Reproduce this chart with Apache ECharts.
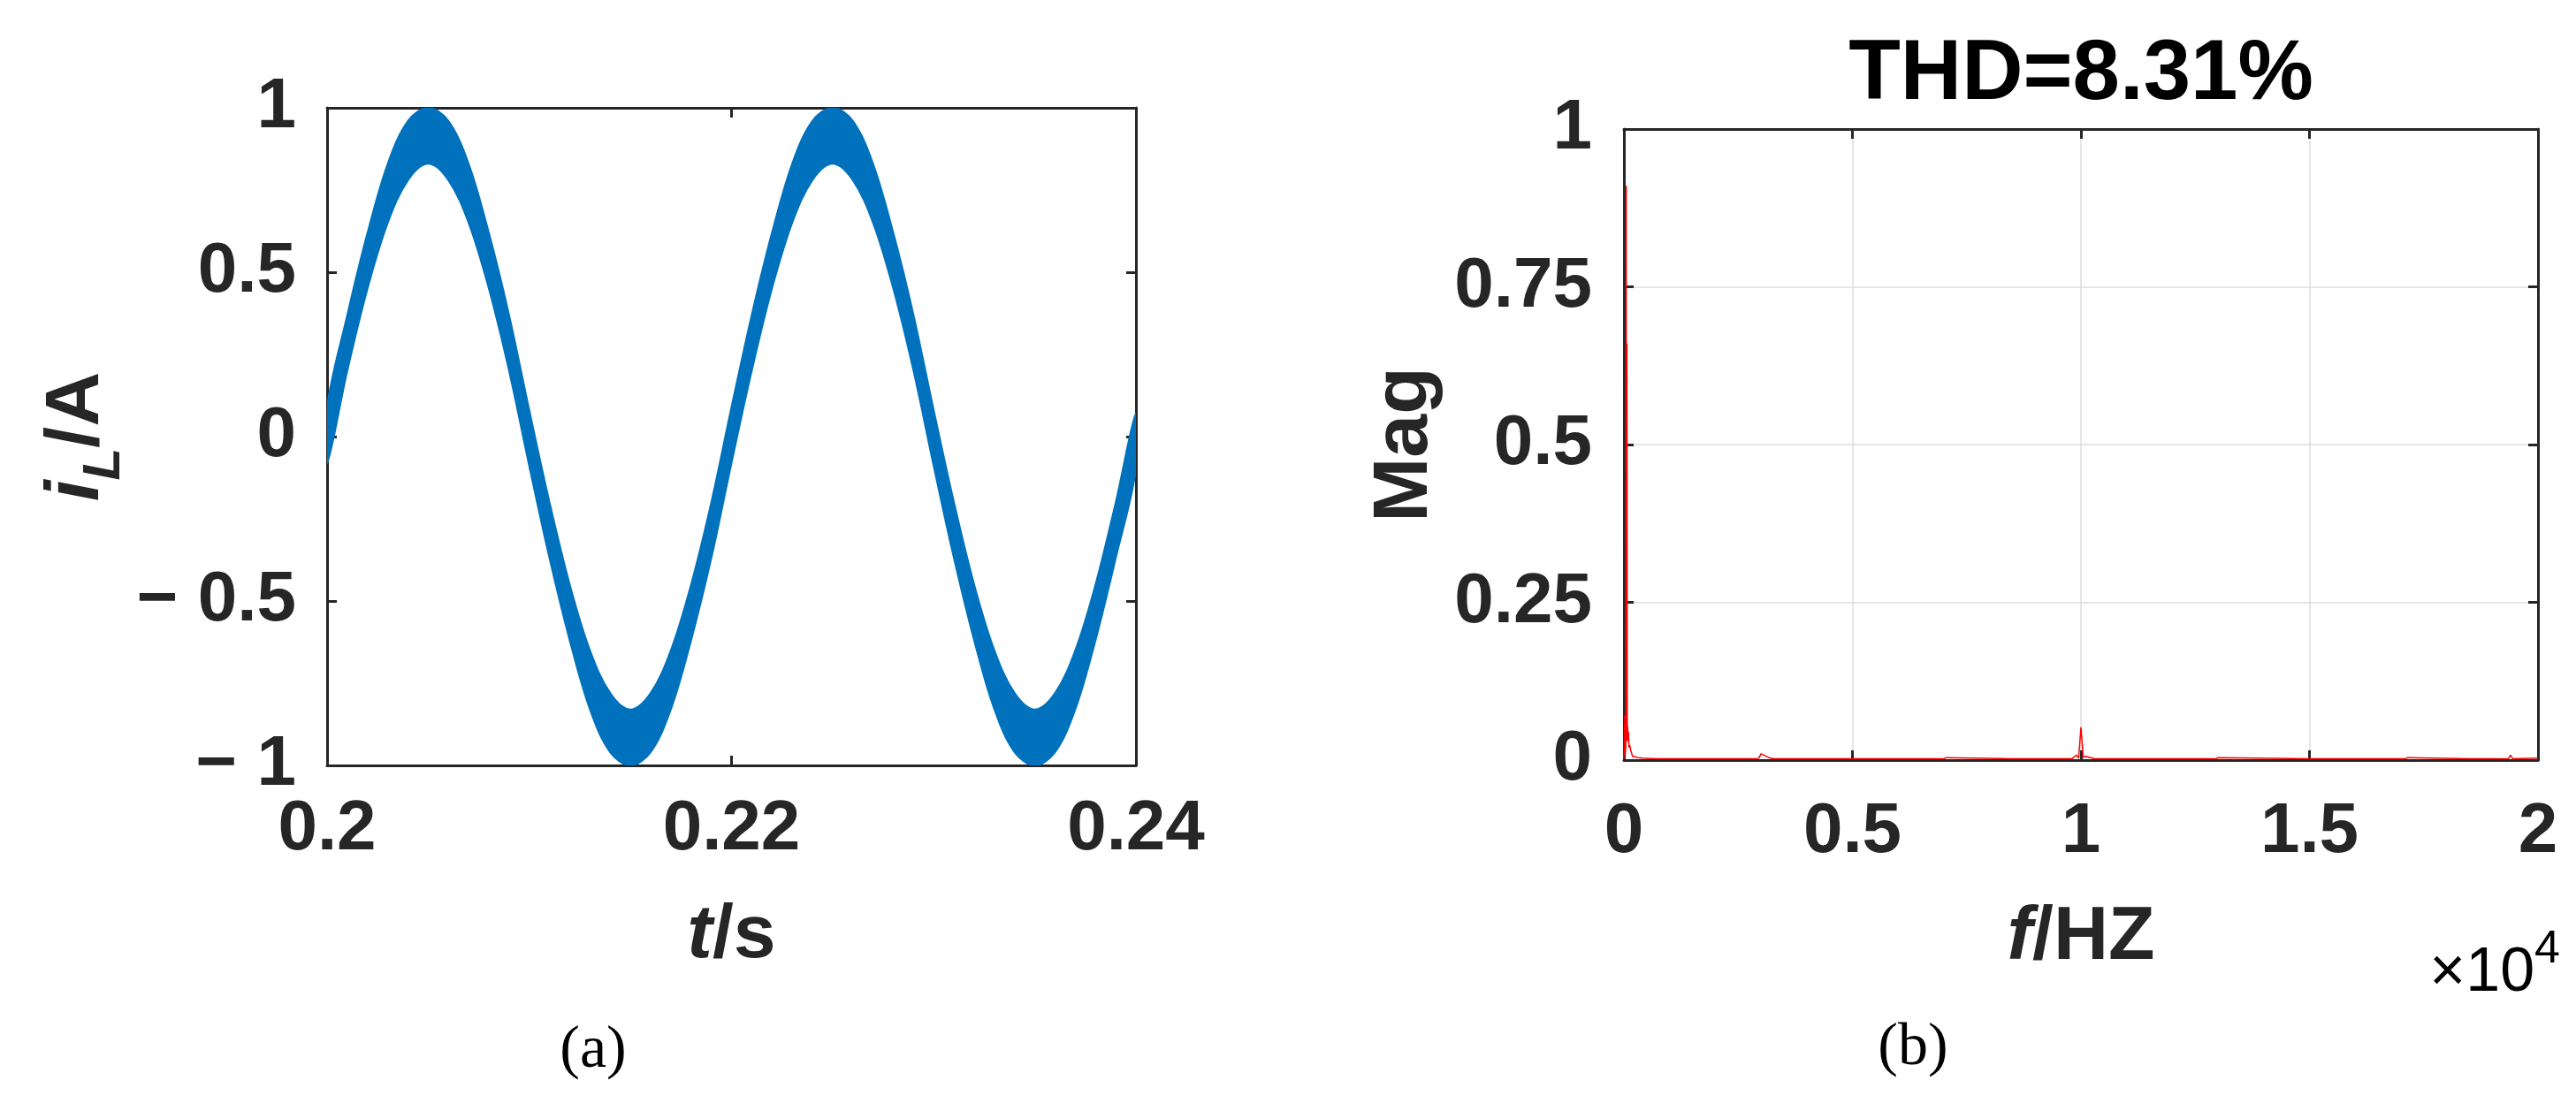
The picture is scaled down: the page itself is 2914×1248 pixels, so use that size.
<!DOCTYPE html>
<html>
<head>
<meta charset="utf-8">
<title>iL waveform and spectrum</title>
<script src="https://cdn.jsdelivr.net/npm/echarts@6.0.0/dist/echarts.min.js"></script>
<style>
  html, body { margin: 0; padding: 0; background: #fff; }
  #chart { width: 2914px; height: 1248px; }
</style>
</head>
<body>
<div id="chart"></div>
<script>
// ---------- data ----------
// (a) inductor current band: upper / lower edge of the ripple, sampled every 1 ms
const timeA = [0.200, 0.201, 0.202, 0.203, 0.204, 0.205, 0.206, 0.207, 0.208, 0.209,
  0.210, 0.211, 0.212, 0.213, 0.214, 0.215, 0.216, 0.217, 0.218, 0.219,
  0.220, 0.221, 0.222, 0.223, 0.224, 0.225, 0.226, 0.227, 0.228, 0.229,
  0.230, 0.231, 0.232, 0.233, 0.234, 0.235, 0.236, 0.237, 0.238, 0.239, 0.240]
const upperA = [0.09, 0.37, 0.62, 0.83, 0.96, 1.0, 0.96, 0.83, 0.62, 0.37,
  0.08, -0.2, -0.45, -0.65, -0.78, -0.83, -0.78, -0.65, -0.45, -0.2,
  0.09, 0.37, 0.62, 0.83, 0.96, 1.0, 0.96, 0.83, 0.62, 0.37,
  0.08, -0.2, -0.45, -0.65, -0.78, -0.83, -0.78, -0.65, -0.45, -0.2, 0.07]
const lowerA = [-0.08, 0.2, 0.45, 0.65, 0.78, 0.83, 0.78, 0.65, 0.45, 0.2,
  -0.09, -0.37, -0.62, -0.83, -0.96, -1.0, -0.96, -0.83, -0.62, -0.37,
  -0.08, 0.2, 0.45, 0.65, 0.78, 0.83, 0.78, 0.65, 0.45, 0.2,
  -0.09, -0.37, -0.62, -0.83, -0.96, -1.0, -0.96, -0.83, -0.62, -0.37, -0.1]
const xTicksA = [0.2, 0.22, 0.24]
const xLabelsA = ['0.2', '0.22', '0.24']
const yTicksA = [-1, -0.5, 0, 0.5, 1]
const yLabelsA = ['\u2212 1', '\u2212 0.5', '0', '0.5', '1']

// (b) spectrum, Hz / magnitude
const specFreq = [0, 20, 30, 40, 50, 55, 65, 72, 80, 90, 100, 110, 125, 155, 190, 250, 310, 400,
  700, 1200, 2000, 2900, 2950, 3000, 3200, 3300, 4500, 6000, 7000, 7050, 8500,
  9800, 9900, 9950, 10000, 10050, 10100, 10300, 11500, 12960, 13000, 15000,
  17100, 17150, 18500, 19350, 19400, 19450, 20000]
const specMag = [0.002, 0.071, 0.01, 0.02, 0.91, 0.03, 0.66, 0.03, 0.054, 0.03, 0.045, 0.02, 0.024, 0.014, 0.006, 0.005, 0.004, 0.003,
  0.002, 0.002, 0.002, 0.002, 0.003, 0.010, 0.003, 0.002, 0.002, 0.002, 0.002, 0.004, 0.002,
  0.002, 0.008, 0.003, 0.052, 0.004, 0.006, 0.002, 0.002, 0.002, 0.004, 0.002,
  0.002, 0.004, 0.002, 0.002, 0.008, 0.002, 0.003]
const xTicksB = [0, 5000, 10000, 15000, 20000]
const xLabelsB = ['0', '0.5', '1', '1.5', '2']
const yTicksB = [0, 0.25, 0.5, 0.75, 1]
const yLabelsB = ['0', '0.25', '0.5', '0.75', '1']

// ---------- styling ----------
const FONT = "'Liberation Sans', Arial, sans-serif"
const SERIF = "'Liberation Serif', 'Times New Roman', serif"
const INK = '#262626'
const BLUE = '#0072BD'
const TICK_FS = 80
const NAME_FS = 86

function pick(ticks, labels) {
  return function (v) {
    let best = 0
    ticks.forEach((t, i) => {
      if (Math.abs(t - v) < Math.abs(ticks[best] - v)) best = i
    })
    return labels[best]
  }
}

function tok(size, extra) {
  return Object.assign({ fontFamily: FONT, fontWeight: 'bold', fontSize: size, color: INK }, extra)
}

// one side of a boxed (MATLAB style) plot
function axis(gridIndex, position, range, opts) {
  return Object.assign({
    type: 'value',
    gridIndex: gridIndex,
    position: position,
    min: range[0],
    max: range[1],
    interval: range[2],
    axisLine: { show: true, onZero: false, lineStyle: { color: INK, width: 3 } },
    axisTick: { show: true, inside: true, length: 11, lineStyle: { color: INK, width: 3 } },
    axisLabel: { show: false },
    splitLine: { show: false },
  }, opts || {})
}

function labelStyle(margin, fmt) {
  return {
    show: true,
    margin: margin,
    formatter: fmt,
    fontFamily: FONT,
    fontWeight: 'bold',
    fontSize: TICK_FS,
    color: INK,
  }
}

const gridLines = { show: true, lineStyle: { color: '#dedede', width: 1.5 } }

const chart = echarts.init(document.getElementById('chart'))
chart.setOption({
  animation: false,
  backgroundColor: '#fff',
  grid: [
    { left: 370, top: 122, width: 915, height: 744 },
    { left: 1837, top: 146, width: 1034, height: 714 },
  ],
  xAxis: [
    axis(0, 'bottom', [0.2, 0.24, 0.02], {
      axisLabel: labelStyle(33, pick(xTicksA, xLabelsA)),
      name: '{it|t}{n|/s}',
      nameLocation: 'middle',
      nameGap: 150,
      nameTextStyle: { rich: { it: tok(NAME_FS, { fontStyle: 'italic' }), n: tok(NAME_FS) } },
    }),
    axis(0, 'top', [0.2, 0.24, 0.02]),
    axis(1, 'bottom', [0, 20000, 5000], {
      axisLabel: labelStyle(42, pick(xTicksB, xLabelsB)),
      splitLine: gridLines,
      name: '{it|f}{n|/HZ}',
      nameLocation: 'middle',
      nameGap: 158,
      nameTextStyle: { rich: { it: tok(NAME_FS, { fontStyle: 'italic' }), n: tok(NAME_FS) } },
    }),
    axis(1, 'top', [0, 20000, 5000]),
  ],
  yAxis: [
    axis(0, 'left', [-1, 1, 0.5], {
      axisLabel: labelStyle(35, pick(yTicksA, yLabelsA)),
      name: '{it|i}{sub|L}{n|/A}',
      nameLocation: 'middle',
      nameRotate: 90,
      nameGap: 222,
      nameTextStyle: {
        rich: {
          it: tok(NAME_FS, { fontStyle: 'italic' }),
          sub: tok(60, { fontStyle: 'italic', padding: [62, 0, 0, 0] }),
          n: tok(NAME_FS),
        },
      },
    }),
    axis(0, 'right', [-1, 1, 0.5]),
    axis(1, 'left', [0, 1, 0.25], {
      axisLabel: labelStyle(36, pick(yTicksB, yLabelsB)),
      splitLine: gridLines,
      name: 'Mag',
      nameLocation: 'middle',
      nameRotate: 90,
      nameGap: 203,
      nameTextStyle: { fontFamily: FONT, fontWeight: 'bold', fontSize: 88, color: INK },
    }),
    axis(1, 'right', [0, 1, 0.25]),
  ],
  series: [
    {
      // ripple band of iL: filled between the upper and lower edge
      type: 'custom',
      xAxisIndex: 0,
      yAxisIndex: 0,
      clip: true,
      data: timeA.map((t, i) => [t, upperA[i], lowerA[i]]),
      encode: { x: 0, y: [1, 2] },
      renderItem: function (params, api) {
        if (params.dataIndex !== 0) return null
        const top = timeA.map((t, i) => api.coord([t, upperA[i]]))
        const bottom = timeA.map((t, i) => api.coord([t, lowerA[i]])).reverse()
        return {
          type: 'polygon',
          shape: { points: top.concat(bottom), smooth: 0.35 },
          style: { fill: BLUE, stroke: BLUE, lineWidth: 2 },
        }
      },
    },
    {
      type: 'line',
      xAxisIndex: 2,
      yAxisIndex: 2,
      symbol: 'none',
      lineStyle: { color: '#ff0000', width: 1.5 },
      data: specFreq.map((f, i) => [f, specMag[i]]),
      z: 3,
    },
  ],
  graphic: [
    {
      type: 'text',
      x: 2354,
      y: 86,
      style: {
        text: 'THD=8.31%',
        align: 'center',
        verticalAlign: 'middle',
        fontFamily: FONT,
        fontWeight: 'bold',
        fontSize: 96,
        fill: '#000',
      },
    },
    {
      type: 'text',
      x: 2896,
      y: 1092,
      style: {
        text: '{n|\u00d710}{sup|4}',
        align: 'right',
        verticalAlign: 'middle',
        rich: {
          n: { fontFamily: FONT, fontSize: 70, color: INK, padding: [20, 0, 0, 0] },
          sup: { fontFamily: FONT, fontSize: 52, color: INK, padding: [0, 0, 34, 0] },
        },
      },
    },
    {
      type: 'text',
      x: 671,
      y: 1189,
      style: {
        text: '(a)',
        align: 'center',
        verticalAlign: 'middle',
        fontFamily: SERIF,
        fontSize: 68,
        fill: '#000',
      },
    },
    {
      type: 'text',
      x: 2164,
      y: 1186,
      style: {
        text: '(b)',
        align: 'center',
        verticalAlign: 'middle',
        fontFamily: SERIF,
        fontSize: 68,
        fill: '#000',
      },
    },
  ],
})
</script>
</body>
</html>
